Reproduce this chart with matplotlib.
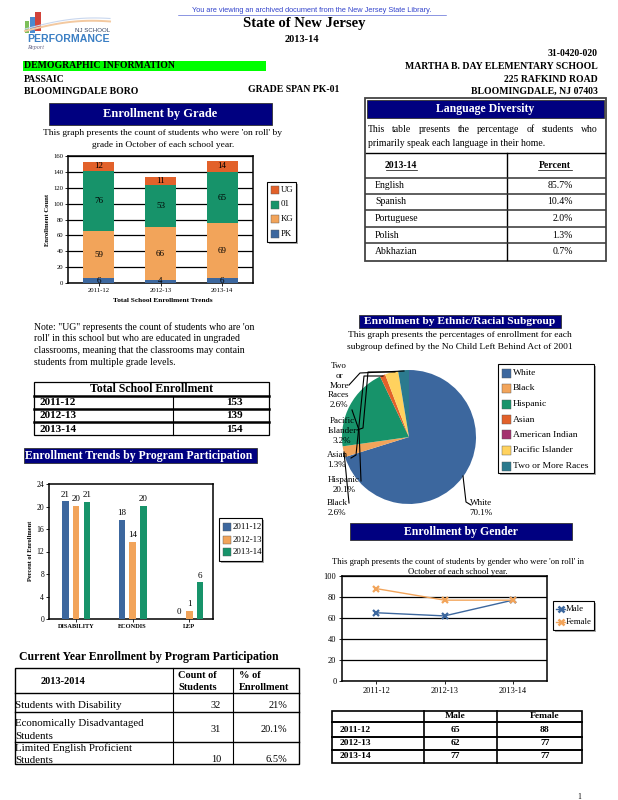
import numpy as np
import matplotlib
matplotlib.use('Agg')
import matplotlib.pyplot as plt
from matplotlib.patches import Rectangle
from matplotlib.lines import Line2D

W, H = 618, 800
plt.rcParams['font.family'] = ['Liberation Serif', 'DejaVu Serif']

NAVY = '#000080'
BLUE = '#3C679E'
ORANGE = '#F2A45A'
GREEN = '#17936A'
RED = '#E2612A'

# ---- data ----
years = ['2011-12', '2012-13', '2013-14']
grade_pk = [6, 4, 6]
grade_kg = [59, 66, 69]
grade_01 = [76, 53, 65]
grade_ug = [12, 11, 14]
total_enroll = [153, 139, 154]

languages = ['English', 'Spanish', 'Portuguese', 'Polish', 'Abkhazian']
lang_pct = ['85.7%', '10.4%', '2.0%', '1.3%', '0.7%']

programs = ['DISABILITY', 'ECONDIS', 'LEP']
prog_1112 = [20.9, 17.6, 0.0]
prog_1213 = [20.1, 13.7, 1.4]
prog_1314 = [20.8, 20.1, 6.5]

ethnic = ['White', 'Black', 'Hispanic', 'Asian', 'American Indian',
          'Pacific Islander', 'Two or More Races']
ethnic_pct = [70.1, 2.6, 20.1, 1.3, 0.0, 3.2, 2.6]
ethnic_colors = [BLUE, ORANGE, GREEN, RED, '#A3316E', '#FFD25E', '#2B7A8E']

male = [65, 62, 77]
female = [88, 77, 77]

cur_rows = ['Students with Disability', 'Economically Disadvantaged\nStudents',
            'Limited English Proficient\nStudents']
cur_count = [32, 31, 10]
cur_pct = ['21%', '20.1%', '6.5%']

fig = plt.figure(figsize=(W / 100, H / 100), dpi=100)
renderer = fig.canvas.get_renderer()


def fx(x):
    return x / W


def fy(y):
    return 1 - y / H


def txt(x, y, s, size=7, ha='left', va='center', weight='normal', color='black', **kw):
    return fig.text(fx(x), fy(y), s, fontsize=size, ha=ha, va=va, fontweight=weight, color=color, **kw)


def justify(x0, x1, y, s, size=7):
    # place words one by one so the line fills x0..x1
    objs = [txt(x0, y, w_, size=size) for w_ in s.split()]
    widths = [o.get_window_extent(renderer).width for o in objs]
    gap = (x1 - x0 - sum(widths)) / (len(objs) - 1)
    xp = x0
    for o, wd in zip(objs, widths):
        o.set_x(fx(xp))
        xp += wd + gap


def rect(x0, y0, x1, y1, fc='none', ec='black', lw=0.8, z=1):
    fig.patches.append(Rectangle((fx(x0), fy(y1)), (x1 - x0) / W, (y1 - y0) / H,
                                 transform=fig.transFigure, fc=fc, ec=ec, lw=lw, zorder=z))


def line(xs, ys, lw=0.8, color='black', **kw):
    fig.add_artist(Line2D([fx(x) for x in xs], [fy(y) for y in ys],
                          transform=fig.transFigure, lw=lw, color=color, **kw))


def add_ax(x0, y0, x1, y1):
    return fig.add_axes([fx(x0), fy(y1), (x1 - x0) / W, (y1 - y0) / H])


def navy_bar(x0, y0, x1, y1, s, size=8.5, ha='center'):
    rect(x0, y0, x1, y1, fc=NAVY, ec='#333333', lw=0.6)
    if ha == 'center':
        txt((x0 + x1) / 2, (y0 + y1) / 2, s, size=size, ha='center', weight='bold', color='white')
    else:
        txt(x0 + 1, (y0 + y1) / 2, s, size=size, ha='left', weight='bold', color='white')


def legend_box(x0, y0, x1, y1, labels, colors, ys, size=6.5, sw=8):
    rect(x0 + 1.5, y0 + 1.5, x1 + 1.5, y1 + 1.5, fc='#AAAAAA', ec='none')
    rect(x0, y0, x1, y1, fc='white', ec='black', lw=0.8)
    for lab, c, yy in zip(labels, colors, ys):
        rect(x0 + 4, yy - sw / 2, x0 + 4 + sw, yy + sw / 2, fc=c, ec='#555555', lw=0.3)
        txt(x0 + 6 + sw, yy, lab, size=size)


# ---- header ----
txt(312, 10, 'You are viewing an archived document from the New Jersey State Library.',
    size=5.3, ha='center', color='#3344CC', family='Liberation Sans')
line([178, 446], [14.5, 14.5], lw=0.4, color='#3344CC')
txt(304, 23, 'State of New Jersey', size=10.5, ha='center', weight='bold')
txt(302, 39, '2013-14', size=7.5, ha='center', weight='bold')

# logo
tt = np.linspace(0, 1, 30)
rect(25, 21, 29, 33, fc='#7DBF5A', ec='none')
rect(30, 17, 35, 33, fc='#4B8BD0', ec='none')
rect(35, 12, 41, 31, fc='#D2433A', ec='none')
line(25 + 85 * tt, 31 - 6 * np.sin(tt * np.pi * 0.8) - 6 * tt, lw=1.4, color='#F3C9A0')
line(25 + 85 * tt, 29 - 6 * np.sin(tt * np.pi * 0.8) - 7 * tt, lw=0.8, color='#C9D7EE')
txt(110, 30.5, 'NJ SCHOOL', size=4.4, ha='right', color='#334466', family='Liberation Sans')
txt(27, 39.5, 'PERFORMANCE', size=7.6, weight='bold', color='#3B7FC4', family='Liberation Sans')
txt(27, 47.5, 'Report', size=4.5, color='#666688', style='italic')

txt(598, 53, '31-0420-020', size=7, ha='right', weight='bold')
rect(23, 61, 266, 71, fc='#00FF00', ec='none')
txt(24, 66, 'DEMOGRAPHIC INFORMATION', size=7, weight='bold')
txt(598, 66.5, 'MARTHA B. DAY ELEMENTARY SCHOOL', size=7, ha='right', weight='bold')
txt(24, 79, 'PASSAIC', size=7, weight='bold')
txt(598, 79, '225 RAFKIND ROAD', size=7, ha='right', weight='bold')
txt(24, 91, 'BLOOMINGDALE BORO', size=7, weight='bold')
txt(248, 89, 'GRADE SPAN PK-01', size=7, weight='bold')
txt(598, 91, 'BLOOMINGDALE, NJ 07403', size=7, ha='right', weight='bold')

# ---- enrollment by grade ----
navy_bar(49, 103, 272, 125, 'Enrollment by Grade', size=9)
txt(163, 133, "This graph presents the count of students who were 'on roll' by", size=6.8, ha='center')
txt(163, 145, 'grade in October of each school year.', size=6.8, ha='center')

ax = add_ax(68, 156, 253, 283)
x = np.arange(len(years))
series = [('PK', grade_pk, BLUE), ('KG', grade_kg, ORANGE), ('01', grade_01, GREEN), ('UG', grade_ug, RED)]
bottom = np.zeros(len(years))
for name, vals, col in series:
    ax.bar(x, vals, 0.5, bottom=bottom, color=col, zorder=3)
    for xi, b, v in zip(x, bottom, vals):
        ax.text(xi, b + v / 2, str(v), ha='center', va='center', fontsize=6.5, zorder=4)
    bottom = bottom + np.array(vals)
ax.set_xlim(-0.5, 2.5)
ax.set_ylim(0, 160)
ax.set_yticks(range(0, 161, 20))
ax.set_xticks(x)
ax.set_xticklabels(years)
ax.tick_params(labelsize=4.8, length=2, width=0.6, pad=1.5)
ax.grid(axis='y', color='black', lw=0.9, zorder=0)
for s in ax.spines.values():
    s.set_linewidth(1.1)
txt(48, 220, 'Enrollment Count', size=4.8, ha='center', weight='bold', rotation=90)
txt(163, 300, 'Total School Enrollment Trends', size=5.3, ha='center', weight='bold')
legend_box(267, 182, 296, 242, ['UG', '01', 'KG', 'PK'], [RED, GREEN, ORANGE, BLUE],
           [190, 204.5, 219, 234], size=6.3, sw=8)

# ---- language diversity ----
rect(365, 98, 606, 261, fc='white', ec='#444444', lw=1.3)
navy_bar(367, 100, 604, 118, 'Language Diversity', size=8.5)
justify(368, 598, 130, 'This table presents the percentage of students who', size=7)
txt(368, 143, 'primarily speak each language in their home.', size=7)
line([366, 605], [153, 153], lw=1.0)
line([507, 507], [153, 260], lw=1.0)
txt(401, 166, '2013-14', size=7, ha='center', weight='bold')
line([386, 417], [170, 170], lw=0.5)
txt(555, 166, 'Percent', size=7, ha='center', weight='bold')
line([538, 572], [170, 170], lw=0.5)
for yy in [178, 194, 210, 227, 243]:
    line([366, 605], [yy, yy], lw=1.1, color='#333333')
for i, (lang, pct) in enumerate(zip(languages, lang_pct)):
    yy = 185.5 + i * 16.5
    txt(375, yy, lang, size=7)
    txt(573, yy, pct, size=7, ha='right')

# ---- note + total enrollment ----
note = ['Note: "UG" represents the count of students who are \'on',
        "roll' in this school but who are educated in ungraded",
        'classrooms, meaning that the classrooms may contain',
        'students from multiple grade levels.']
for i, ln in enumerate(note):
    txt(34, 327 + i * 11.7, ln, size=7)

rect(34, 382, 269, 435, lw=0.9)
txt(152, 389, 'Total School Enrollment', size=8.5, ha='center', weight='bold')
for yy in [396, 409, 422]:
    line([34, 269], [yy, yy], lw=1.8)
line([173, 173], [396, 435], lw=0.8)
for i, (yr, tot) in enumerate(zip(years, total_enroll)):
    yy = 402.5 + i * 13.5
    txt(40, yy, yr, size=8, weight='bold')
    txt(243, yy, str(tot), size=8, ha='right', weight='bold')

# ---- program participation trends ----
navy_bar(24, 448, 257, 463, 'Enrollment Trends by Program Participation', size=8.5, ha='left')
ax = add_ax(49, 484, 213, 619)
x = np.arange(len(programs))
for k, (vals, col) in enumerate([(prog_1112, BLUE), (prog_1213, ORANGE), (prog_1314, GREEN)]):
    xs = x + (k - 1) * 0.19
    ax.bar(xs, vals, 0.115, color=col, zorder=3)
    for xi, v in zip(xs, vals):
        ax.text(xi, v + 0.5, '%.0f' % v, ha='center', va='bottom', fontsize=6.5)
ax.set_xlim(-0.48, 2.42)
ax.set_ylim(0, 24)
ax.set_yticks(range(0, 25, 4))
ax.set_xticks(x)
ax.set_xticklabels(programs, fontweight='bold')
ax.tick_params(labelsize=4.6, length=2, width=0.6, pad=1.5)
ax.tick_params(axis='y', labelsize=5.5)
for s in ax.spines.values():
    s.set_linewidth(1.1)
txt(31, 551, 'Percent of Enrollment', size=4.6, ha='center', weight='bold', rotation=90)
legend_box(219, 518, 262, 561, years, [BLUE, ORANGE, GREEN], [527, 539.5, 552], size=6.3, sw=8)

# ---- current year table ----
txt(19, 657, 'Current Year Enrollment by Program Participation', size=8.5, weight='bold')
rect(15, 668, 299, 764, lw=1.0)
line([15, 299], [693, 693], lw=1.0)
line([15, 299], [712, 712], lw=1.0)
line([15, 299], [742, 742], lw=1.0)
line([173, 173], [668, 764], lw=0.8)
line([233, 233], [668, 764], lw=0.8)
txt(63, 681, '2013-2014', size=7.5, ha='center', weight='bold')
txt(178, 675, 'Count of', size=7.5, weight='bold')
txt(178, 687, 'Students', size=7.5, weight='bold')
txt(239, 675, '% of', size=7.5, weight='bold')
txt(239, 687, 'Enrollment', size=7.5, weight='bold')
row_y = [(705,), (723, 736.5), (748, 760.5)]
val_y = [705, 730, 760]
for lab, ys, vy, c, p in zip(cur_rows, row_y, val_y, cur_count, cur_pct):
    for part, yy in zip(lab.split('\n'), ys):
        txt(15, yy, part, size=7.8)
    txt(221, vy, str(c), size=7.5, ha='right')
    txt(287, vy, p, size=7.5, ha='right')

# ---- ethnic pie ----
navy_bar(359, 315, 561, 328, 'Enrollment by Ethnic/Racial Subgroup', size=8.2)
txt(460, 335, 'This graph presents the percentages of enrollment for each', size=6.8, ha='center')
txt(460, 347, 'subgroup defined by the No Child Left Behind Act of 2001', size=6.8, ha='center')
ax = add_ax(409 - 67, 437 - 67, 409 + 67, 437 + 67)
ax.pie(ethnic_pct, colors=ethnic_colors, startangle=90, counterclock=False,
       wedgeprops=dict(linewidth=0))
ax.set_aspect('equal')
ax.set_xlim(-1, 1)
ax.set_ylim(-1, 1)

txt(339, 385.5, 'Two\nor\nMore\nRaces\n2.6%', size=6.5, ha='center', linespacing=1.28)
txt(342, 431, 'Pacific\nIslander\n3.2%', size=6.5, ha='center', linespacing=1.28)
txt(337, 460, 'Asian\n1.3%', size=6.5, ha='center', linespacing=1.28)
txt(344, 485, 'Hispanic\n20.1%', size=6.5, ha='center', linespacing=1.28)
txt(337, 508, 'Black\n2.6%', size=6.5, ha='center', linespacing=1.28)
txt(481, 508, 'White\n70.1%', size=6.5, ha='center', linespacing=1.28)
line([349, 360, 404], [385, 373, 371])
line([357, 363, 368, 395], [430, 428, 372, 372])
line([351, 356, 364, 383], [458, 455, 376, 376])
line([361, 359, 352], [481, 430, 410])
line([349, 344], [503, 452])
line([463, 466, 471], [476, 502, 505])
legend_box(498, 364, 594, 473, ethnic, ethnic_colors,
           [373, 388.5, 404, 419.5, 435, 450.5, 466], size=6.8, sw=9)

# ---- gender ----
navy_bar(350, 523, 572, 540, 'Enrollment by Gender', size=8.5)
txt(458, 562, "This graph presents the count of students by gender who were 'on roll' in", size=6.2, ha='center')
txt(458, 572, 'October of each school year.', size=6.2, ha='center')
ax = add_ax(342, 576, 547, 681)
x = np.arange(len(years))
ax.plot(x, male, color=BLUE, lw=1.0, marker='x', ms=4.5, mew=1.6, zorder=3)
ax.plot(x, female, color=ORANGE, lw=1.0, marker='x', ms=4.5, mew=1.6, zorder=3)
ax.set_xlim(-0.5, 2.5)
ax.set_ylim(0, 100)
ax.set_yticks(range(0, 101, 20))
ax.set_xticks(x)
ax.set_xticklabels(years)
ax.tick_params(labelsize=6, length=2, width=0.6, pad=2)
ax.grid(axis='y', color='black', lw=0.9, zorder=0)
for s in ax.spines.values():
    s.set_linewidth(1.1)
rect(554.5, 602.5, 595.5, 631.5, fc='#AAAAAA', ec='none')
rect(553, 601, 594, 630, fc='white', ec='black', lw=0.8)
for yy, lab, col in [(609, 'Male', BLUE), (622, 'Female', ORANGE)]:
    line([556, 565], [yy, yy], lw=1.0, color=col)
    fig.add_artist(Line2D([fx(560.5)], [fy(yy)], transform=fig.transFigure, marker='x',
                          ms=5, mew=1.8, color=col))
    txt(566, yy, lab, size=6.3)

# gender table
rect(332, 711, 582, 763, lw=1.2)
for yy in [722, 737, 750]:
    line([332, 582], [yy, yy], lw=1.4)
line([424, 424], [711, 763], lw=1.2)
line([497, 497], [711, 763], lw=1.2)
txt(455, 716.5, 'Male', size=6.8, ha='center', weight='bold')
txt(545, 716.5, 'Female', size=6.8, ha='center', weight='bold')
for i, (yr, m, f) in enumerate(zip(years, male, female)):
    yy = 729.5 + i * 13.5
    txt(340, yy, yr, size=6.8, weight='bold')
    txt(455, yy, str(m), size=6.8, ha='center', weight='bold')
    txt(545, yy, str(f), size=6.8, ha='center', weight='bold')

txt(579, 797, '1', size=5.5, ha='center')

fig.savefig('out.png', dpi=100)
